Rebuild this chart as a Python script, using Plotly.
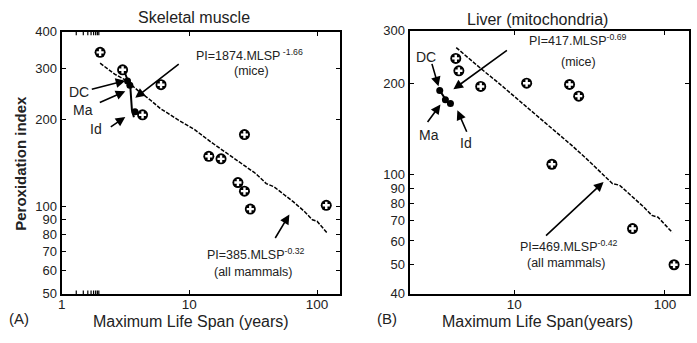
import plotly.graph_objects as go
import numpy as np

W, H = 697, 343

# ---------------- Data: panel A (skeletal muscle) ----------------
a_mlsp = [2.0, 3.0, 6.0, 4.3, 27, 14.2, 17.7, 24, 27, 30, 118]
a_pi = [340, 296, 263, 207, 177, 149, 146, 121, 113, 98, 101]
a_mice_mlsp = [3.28, 3.42, 3.75]
a_mice_pi = [271, 262, 212]
a_mice_line_x = [3.07, 3.3, 3.45, 3.55, 3.68]
a_mice_line_y = [295, 270, 258, 215, 203]
a_all_line_x = [2.0, 2.6, 3.2, 4.0, 5.0, 5.9, 8.0, 11, 15, 20, 26, 33, 40, 46, 55, 65, 80, 92, 100, 120]
a_all_line_y = [312, 286, 272, 250, 232, 218, 200, 184, 166, 152, 140, 130, 120, 117, 110, 104, 96, 90, 89, 81]

# ---------------- Data: panel B (liver mitochondria) ----------------
b_mlsp = [4.1, 4.3, 6.0, 12.1, 23.3, 26.8, 17.8, 61, 115]
b_pi = [243, 221, 196, 201, 199, 182, 108, 66, 50]
b_mice_mlsp = [3.21, 3.5, 3.78]
b_mice_pi = [190, 177, 172]
b_mice_line_x = [3.15, 3.35, 3.55, 3.8]
b_mice_line_y = [193, 184, 176, 170]
b_all_line_x = [4.13, 5.0, 6.0, 8.0, 10, 14, 18, 24, 30, 38, 45, 50, 60, 72, 82, 90, 100, 112]
b_all_line_y = [264, 243, 225, 200, 182, 157, 142, 125, 113, 101, 93, 92, 85, 78, 73, 72, 68, 64]

a_yticks = [50, 60, 70, 80, 90, 100, 200, 300, 400]
b_yticks = [40, 50, 60, 70, 80, 90, 100, 200, 300]
a_xticks = [1, 10, 100]
b_xticks = [10, 100]
a_x_minor = [2, 3, 4, 5, 6, 7, 8, 9, 20, 30, 40, 50, 60, 70, 80, 90]
b_x_minor = [3, 4, 5, 6, 7, 8, 9, 20, 30, 40, 50, 60, 70, 80, 90]

FONT = "Liberation Sans, Arial, sans-serif"


def px(x, y):
    return x / W, 1 - y / H


fig = go.Figure()


def add_panel(xs, ys, mx, my, lx, ly, ax_x, ax_y, xa, ya):
    fig.add_trace(go.Scatter(x=ax_x, y=ax_y, mode="lines", xaxis=xa, yaxis=ya,
                             line=dict(color="black", width=1.5, dash="4px,1.5px"),
                             showlegend=False, hoverinfo="skip"))
    fig.add_trace(go.Scatter(x=lx, y=ly, mode="lines", xaxis=xa, yaxis=ya,
                             line=dict(color="black", width=2),
                             showlegend=False, hoverinfo="skip"))
    fig.add_trace(go.Scatter(x=mx, y=my, mode="markers", xaxis=xa, yaxis=ya,
                             marker=dict(symbol="circle", size=7, color="black"),
                             showlegend=False))
    fig.add_trace(go.Scatter(x=xs, y=ys, mode="markers", xaxis=xa, yaxis=ya,
                             marker=dict(symbol="circle", size=11, color="black"),
                             showlegend=False))
    fig.add_trace(go.Scatter(x=xs, y=ys, mode="markers", xaxis=xa, yaxis=ya,
                             marker=dict(symbol="cross", size=6, color="white",
                                         line=dict(width=0)),
                             showlegend=False))


add_panel(a_mlsp, a_pi, a_mice_mlsp, a_mice_pi, a_mice_line_x, a_mice_line_y,
          a_all_line_x, a_all_line_y, "x", "y")
add_panel(b_mlsp, b_pi, b_mice_mlsp, b_mice_pi, b_mice_line_x, b_mice_line_y,
          b_all_line_x, b_all_line_y, "x2", "y2")

axis_common = dict(type="log", showgrid=False, zeroline=False, showline=True,
                   linecolor="black", linewidth=2, mirror="ticks", ticks="inside",
                   ticklen=4, tickwidth=1.2, tickcolor="black",
                   tickfont=dict(family=FONT, size=13.5, color="#222"))
yfont = dict(family=FONT, size=13, color="#222")

y0, y1 = px(0, 300)[1], px(0, 26)[1]
y0b, y1b = px(0, 300)[1], px(0, 25)[1]

fig.update_layout(
    width=W, height=H, margin=dict(l=0, r=0, t=0, b=0),
    paper_bgcolor="white", plot_bgcolor="white",
    font=dict(family=FONT, color="#222"),
    xaxis=dict(axis_common, domain=[58 / W, 338 / W], range=[0, 2.18],
               tickvals=a_xticks, ticktext=[str(v) for v in a_xticks], anchor="y",
               ticklabelstandoff=-3),
    yaxis=dict(axis_common, domain=[y0, y1], range=[np.log10(50), np.log10(400)],
               tickvals=a_yticks, ticktext=[str(v) for v in a_yticks], anchor="x",
               tickfont=yfont),
    xaxis2=dict(axis_common, domain=[408 / W, 689 / W], range=[0.307, 2.16],
                tickvals=b_xticks, ticktext=[str(v) for v in b_xticks], anchor="y2",
                ticklabelstandoff=-3),
    yaxis2=dict(axis_common, domain=[y0b, y1b], range=[np.log10(40), np.log10(300)],
                tickvals=b_yticks, ticktext=[str(v) for v in b_yticks], anchor="x2",
                tickfont=yfont),
)

# minor x ticks (inside, bottom and top) as short axis-domain shapes
shapes = []
for xref, yref, minors in (("x", "y domain", a_x_minor), ("x2", "y2 domain", b_x_minor)):
    for v in minors:
        lv = np.log10(v)
        for (ya, yb) in ((0, 0.013), (1 - 0.013, 1)):
            shapes.append(dict(type="line", xref=xref, yref=yref, x0=lv, x1=lv,
                               y0=ya, y1=yb, line=dict(color="black", width=1.2)))
fig.update_layout(shapes=shapes)

ann = []


def text(x, y, s, size=12, **kw):
    X, Y = px(x, y)
    d = dict(x=X, y=Y, xref="paper", yref="paper", text=s, showarrow=False,
             font=dict(family=FONT, size=size, color="#222"), xanchor="center",
             yanchor="middle")
    d.update(kw)
    ann.append(d)


def arrow(x0, y0_, x1, y1_):
    X, Y = px(x1, y1_)
    ann.append(dict(x=X, y=Y, xref="paper", yref="paper", ax=x0 - x1, ay=y0_ - y1_,
                    axref="pixel", ayref="pixel", text="", showarrow=True,
                    arrowhead=2, arrowsize=1.2, arrowwidth=1.6, arrowcolor="black"))


# Panel A
text(191, 11, "Skeletal muscle", size=16)
text(247, 50, "PI=1874.MLSP<sup> -1.66</sup>", size=12.5)
text(249, 67, "(mice)", size=12.5)
arrow(177, 60, 132, 95)
text(75, 89, "DC", size=14)
arrow(87, 86, 122, 77)
text(79, 108, "Ma", size=14)
arrow(95, 100, 122, 88)
text(93, 128, "Id", size=14)
arrow(106, 126, 122, 115)
text(253, 258, "PI=385.MLSP<sup>-0.32</sup>", size=12.5)
text(250, 277, "(all mammals)", size=12.5)
arrow(272, 242, 287, 217)
text(15, 326, "(A)", size=15)
text(188, 329, "Maximum Life Span (years)", size=16)
text(17, 163, "<b>Peroxidation index</b>", size=15, textangle=-90)

# Panel B
text(537, 13, "Liver (mitochondria)", size=16)
text(577, 34, "PI=417.MLSP<sup>-0.69</sup>", size=12.5)
text(578, 57, "(mice)", size=12.5)
arrow(507, 46, 452, 86)
text(424, 52, "DC", size=14)
arrow(430, 59, 437, 83)
text(427, 134, "Ma", size=14)
arrow(425, 121, 439, 102)
text(465, 142, "Id", size=14)
arrow(466, 131, 456, 108)
text(568, 250, "PI=469.MLSP<sup>-0.42</sup>", size=12.5)
text(565, 268, "(all mammals)", size=12.5)
arrow(544, 238, 603, 183)
text(385, 326, "(B)", size=15)
text(537, 329, "Maximum Life Span(years)", size=16)

fig.update_layout(annotations=ann)
fig.write_html("out.html", config={"displayModeBar": False},
               post_script="document.body.style.margin='0';")
